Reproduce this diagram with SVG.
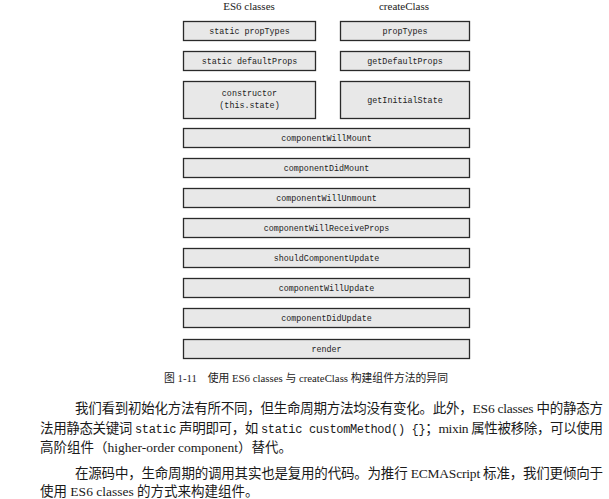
<svg xmlns="http://www.w3.org/2000/svg" width="609" height="499" viewBox="0 0 609 499">
<style>
.box{fill:#e8e8e8;stroke:#2a2a2a;stroke-width:1.3}
.m{font-family:"Liberation Mono","DejaVu Sans Mono",monospace;font-size:8.4px;fill:#222;text-anchor:middle}
.h{font-family:"Liberation Serif",serif;font-size:11px;fill:#222;text-anchor:middle}
.cap{font-family:"Liberation Serif","Noto Sans CJK SC",serif;font-size:10.8px;fill:#222;text-anchor:middle}
.p{font-family:"Liberation Serif","Noto Sans CJK SC",serif;font-size:13.5px;fill:#1a1a1a}
.pm{font-family:"Liberation Mono","DejaVu Sans Mono",monospace;font-size:12px}
</style>
<rect width="609" height="499" fill="#fff"/>
<text class="h" x="249" y="10">ES6 classes</text>
<text class="h" x="404" y="10">createClass</text>
<g id="es6-propTypes"><rect class="box" x="183.5" y="21.5" width="132" height="19"/><text class="m" x="249.5" y="34">static propTypes</text></g>
<g id="cc-propTypes"><rect class="box" x="340.5" y="21.5" width="129" height="19"/><text class="m" x="405" y="34">propTypes</text></g>
<g id="es6-defaultProps"><rect class="box" x="183.5" y="51.5" width="132" height="19"/><text class="m" x="249.5" y="64">static defaultProps</text></g>
<g id="cc-getDefaultProps"><rect class="box" x="340.5" y="51.5" width="129" height="19"/><text class="m" x="405" y="64">getDefaultProps</text></g>
<g id="es6-constructor"><rect class="box" x="183.5" y="81.5" width="132" height="37"/><text class="m" x="249.5" y="96">constructor</text><text class="m" x="249.5" y="108">(this.state)</text></g>
<g id="cc-getInitialState"><rect class="box" x="340.5" y="81.5" width="129" height="37"/><text class="m" x="405" y="103">getInitialState</text></g>
<g id="componentWillMount"><rect class="box" x="183.5" y="128.5" width="286" height="19"/><text class="m" x="326.5" y="141">componentWillMount</text></g>
<g id="componentDidMount"><rect class="box" x="183.5" y="158.5" width="286" height="19"/><text class="m" x="326.5" y="171">componentDidMount</text></g>
<g id="componentWillUnmount"><rect class="box" x="183.5" y="188.5" width="286" height="19"/><text class="m" x="326.5" y="201">componentWillUnmount</text></g>
<g id="componentWillReceiveProps"><rect class="box" x="183.5" y="218.5" width="286" height="19"/><text class="m" x="326.5" y="231">componentWillReceiveProps</text></g>
<g id="shouldComponentUpdate"><rect class="box" x="183.5" y="248.5" width="286" height="19"/><text class="m" x="326.5" y="261">shouldComponentUpdate</text></g>
<g id="componentWillUpdate"><rect class="box" x="183.5" y="278.5" width="286" height="19"/><text class="m" x="326.5" y="291">componentWillUpdate</text></g>
<g id="componentDidUpdate"><rect class="box" x="183.5" y="308.5" width="286" height="19"/><text class="m" x="326.5" y="321">componentDidUpdate</text></g>
<g id="render"><rect class="box" x="183.5" y="339.5" width="286" height="19"/><text class="m" x="326.5" y="352">render</text></g>
<g id="connectors"></g>
<text class="cap" x="306" y="382">图 1-11　使用 ES6 classes 与 createClass 构建组件方法的异同</text>
<text class="p" x="75" y="413" textLength="528" lengthAdjust="spacing">我们看到初始化方法有所不同，但生命周期方法均没有变化。此外，ES6 classes 中的静态方</text>
<text class="p" x="40" y="432.5" textLength="563" lengthAdjust="spacing">法用静态关键词 <tspan class="pm">static</tspan> 声明即可，如 <tspan class="pm">static customMethod() {}</tspan>；mixin 属性被移除，可以使用</text>
<text class="p" x="40" y="452">高阶组件（higher-order component）替代。</text>
<text class="p" x="75" y="477.5" textLength="528" lengthAdjust="spacing">在源码中，生命周期的调用其实也是复用的代码。为推行 ECMAScript 标准，我们更倾向于</text>
<text class="p" x="40" y="495.5">使用 ES6 classes 的方式来构建组件。</text>
</svg>
